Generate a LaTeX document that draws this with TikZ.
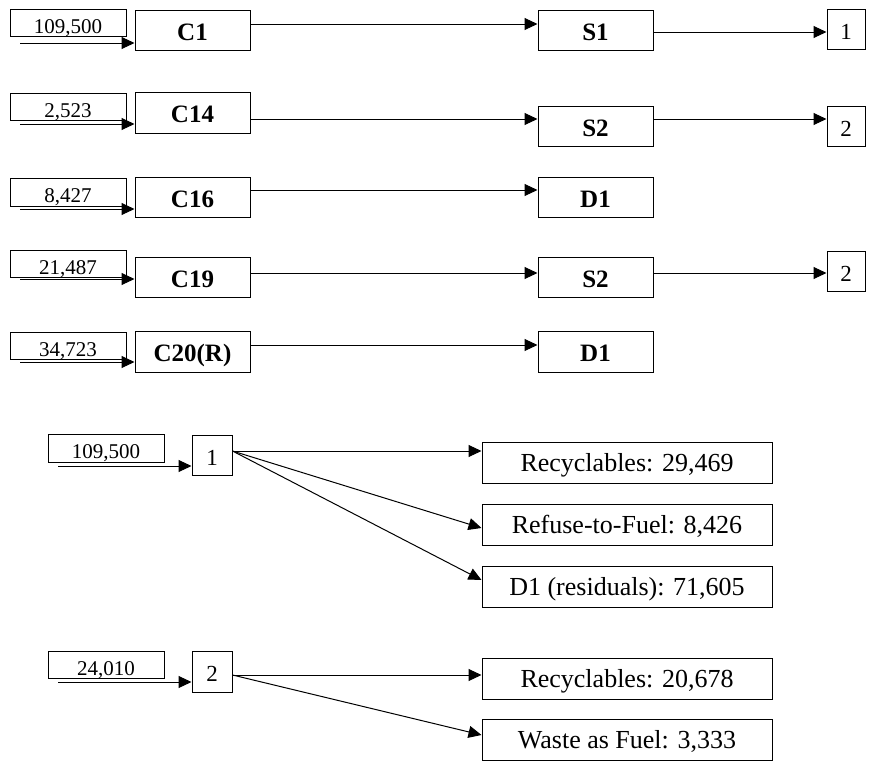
\documentclass[tikz,border=0pt]{standalone}
\usepackage{fontspec}
\setmainfont{Liberation Serif}
\usetikzlibrary{arrows.meta}
\begin{document}
\begin{tikzpicture}[x=1pt,y=-1pt,
  box/.style={draw, line width=1pt, inner sep=0pt, minimum width=115pt, minimum height=40pt, text height=30pt, text depth=10pt, font=\fontsize{25}{30}\selectfont\bfseries},
  inbox/.style={draw, line width=1pt, inner sep=0pt, minimum width=116pt, minimum height=27pt, text height=24pt, text depth=3pt, font=\fontsize{21}{24}\selectfont},
  numbox/.style={draw, line width=1pt, inner sep=0pt, minimum width=38pt, minimum height=40pt, text height=30pt, text depth=10pt, font=\fontsize{23}{28}\selectfont},
  outbox/.style={draw, line width=1pt, inner sep=0pt, minimum width=290pt, minimum height=41pt, text height=29pt, text depth=12pt, font=\fontsize{26}{30}\selectfont},
  flow/.style={line width=1pt, -{Triangle[length=13pt,width=12pt]}}]
\useasboundingbox (0,0) rectangle (871,761);

% Row C1
\node[inbox] (in1) at (68,22.5) {109,500};
\node[box] (C1) at (192.5,30) {C1};
\node[box] (S1) at (595.5,30) {S1};
\node[numbox] (out1) at (846,29) {1};
\coordinate (st1) at (20,43);
\draw[flow] (st1) -- (st1 -| C1.west);
\draw[flow] ([yshift=6pt]C1.east) -- ([yshift=6pt]C1.east -| S1.west);
\draw[flow] ([yshift=-2pt]S1.east) -- ([yshift=-2pt]S1.east -| out1.west);

% Row C14
\node[inbox] (in2) at (68,106.5) {2,523};
\node[box, minimum height=41pt] (C14) at (192.5,112.5) {C14};
\node[box] (S2a) at (595.5,126) {S2};
\node[numbox] (out2a) at (846,126) {2};
\coordinate (st2) at (20,124);
\draw[flow] (st2) -- (st2 -| C14.west);
\draw[flow] ([yshift=-6.5pt]C14.east) -- ([yshift=-6.5pt]C14.east -| S2a.west);
\draw[flow] ([yshift=7pt]S2a.east) -- ([yshift=7pt]S2a.east -| out2a.west);

% Row C16
\node[inbox, minimum height=28pt] (in3) at (68,192) {8,427};
\node[box] (C16) at (192.5,197) {C16};
\node[box] (D1a) at (595.5,197) {D1};
\coordinate (st3) at (20,209);
\draw[flow] (st3) -- (st3 -| C16.west);
\draw[flow] ([yshift=7pt]C16.east) -- ([yshift=7pt]C16.east -| D1a.west);

% Row C19
\node[inbox, minimum height=26pt] (in4) at (68,264) {21,487};
\node[box] (C19) at (192.5,277) {C19};
\node[box] (S2b) at (595.5,277) {S2};
\node[numbox, minimum height=38pt] (out2b) at (846,271) {2};
\coordinate (st4) at (20,279);
\draw[flow] (st4) -- (st4 -| C19.west);
\draw[flow] ([yshift=4pt]C19.east) -- ([yshift=4pt]C19.east -| S2b.west);
\draw[flow] ([yshift=4pt]S2b.east) -- ([yshift=4pt]S2b.east -| out2b.west);

% Row C20(R)
\node[inbox] (in5) at (68,345.5) {34,723};
\node[box, minimum height=41pt] (C20) at (192.5,351.5) {C20(R)};
\node[box, minimum height=41pt] (D1b) at (595.5,351.5) {D1};
\coordinate (st5) at (20,362);
\draw[flow] (st5) -- (st5 -| C20.west);
\draw[flow] ([yshift=6.5pt]C20.east) -- ([yshift=6.5pt]C20.east -| D1b.west);

% Split of 1
\node[inbox, minimum height=28pt] (lo1) at (106,448) {109,500};
\node[numbox, minimum width=40pt] (b1) at (212,455) {1};
\coordinate (st6) at (58,466);
\draw[flow] (st6) -- (st6 -| b1.west);
\node[outbox] (rec1) at (627,462.5) {Recyclables: 29,469};
\node[outbox] (rtf) at (627,524.5) {Refuse-to-Fuel: 8,426};
\node[outbox] (res) at (627,586.5) {D1 (residuals): 71,605};
\coordinate (b1o) at ([yshift=4pt]b1.east);
\draw[flow] (b1o) -- (b1o -| rec1.west);
\draw[flow] (b1o) -- ([yshift=-3.5pt]rtf.west);
\draw[flow] (b1o) -- ([yshift=6.5pt]res.west);

% Split of 2
\node[inbox] (lo2) at (106,664.5) {24,010};
\node[numbox, minimum width=40pt, minimum height=41pt] (b2) at (212,671.5) {2};
\coordinate (st7) at (58,682);
\draw[flow] (st7) -- (st7 -| b2.west);
\node[outbox, minimum height=40pt] (rec2) at (627,679) {Recyclables: 20,678};
\node[outbox, minimum height=39pt] (waf) at (627,739.5) {Waste as Fuel: 3,333};
\coordinate (b2o) at ([yshift=-3.5pt]b2.east);
\draw[flow] (b2o) -- (b2o -| rec2.west);
\draw[flow] (b2o) -- ([yshift=4.5pt]waf.west);

\end{tikzpicture}
\end{document}
